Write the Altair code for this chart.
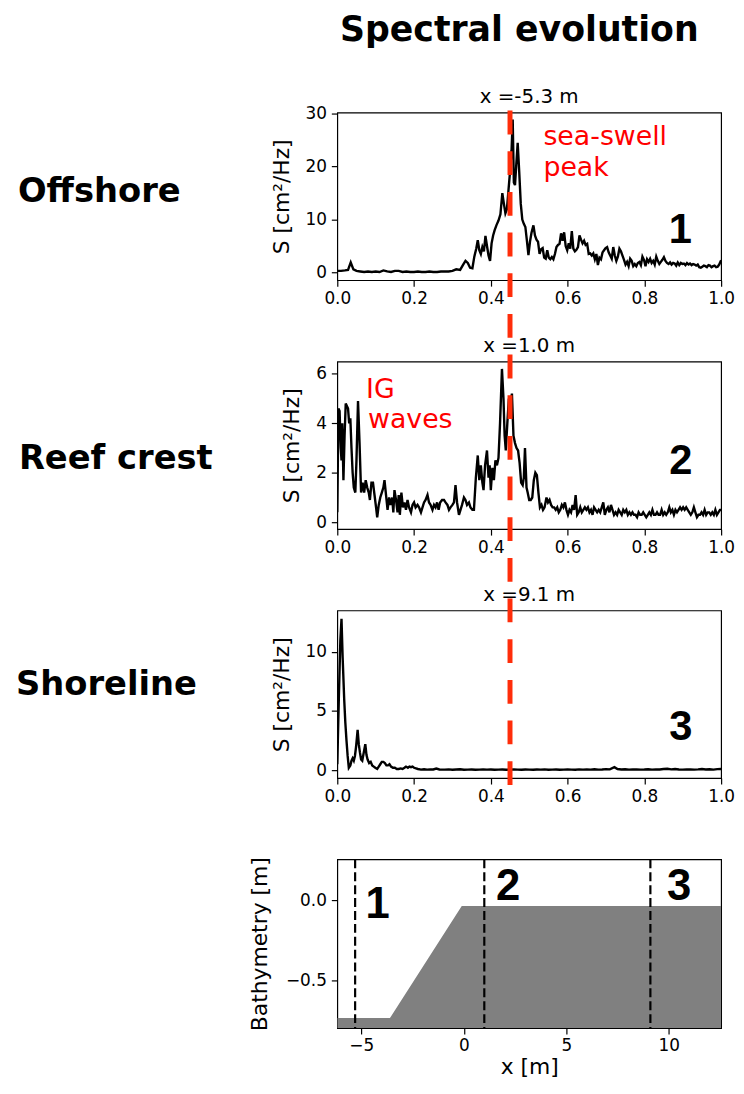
import altair as alt
import pandas as pd

# ---------------- data ----------------
freq_offshore = [0.000, 0.010, 0.020, 0.028, 0.035, 0.042, 0.050, 0.060, 0.070, 0.080, 0.090, 0.100,
                 0.110, 0.120, 0.130, 0.140, 0.150, 0.160, 0.170, 0.180, 0.190, 0.200, 0.210, 0.220,
                 0.230, 0.240, 0.250, 0.260, 0.270, 0.280, 0.290, 0.300, 0.310, 0.320, 0.328, 0.334,
                 0.340, 0.346, 0.352, 0.357, 0.362, 0.366, 0.370, 0.374, 0.378, 0.382, 0.386, 0.390,
                 0.394, 0.398, 0.402, 0.406, 0.410, 0.415, 0.420, 0.425, 0.430, 0.434, 0.438, 0.442,
                 0.446, 0.450, 0.454, 0.457, 0.460, 0.463, 0.466, 0.470, 0.474, 0.478, 0.482, 0.486,
                 0.490, 0.494, 0.498, 0.502, 0.506, 0.511, 0.515, 0.519, 0.523, 0.527, 0.531, 0.535,
                 0.539, 0.543, 0.547, 0.551, 0.555, 0.559, 0.563, 0.567, 0.571, 0.575, 0.579, 0.583,
                 0.587, 0.591, 0.595, 0.599, 0.603, 0.607, 0.611, 0.615, 0.619, 0.623, 0.627, 0.631,
                 0.635, 0.639, 0.643, 0.647, 0.651, 0.655, 0.659, 0.663, 0.667, 0.671, 0.675, 0.679,
                 0.683, 0.687, 0.691, 0.695, 0.699, 0.703, 0.707, 0.711, 0.715, 0.719, 0.723, 0.727,
                 0.731, 0.735, 0.739, 0.743, 0.747, 0.751, 0.755, 0.759, 0.763, 0.767, 0.771, 0.775,
                 0.779, 0.783, 0.787, 0.791, 0.795, 0.799, 0.803, 0.807, 0.811, 0.815, 0.819, 0.823,
                 0.827, 0.831, 0.835, 0.839, 0.843, 0.847, 0.851, 0.855, 0.859, 0.863, 0.867, 0.871,
                 0.875, 0.879, 0.883, 0.887, 0.891, 0.895, 0.899, 0.903, 0.907, 0.911, 0.915, 0.919,
                 0.923, 0.927, 0.931, 0.935, 0.939, 0.943, 0.947, 0.951, 0.955, 0.959, 0.963, 0.967,
                 0.971, 0.975, 0.979, 0.983, 0.987, 0.991, 0.995, 1.000]
S_offshore = [0.3, 0.3, 0.4, 0.5, 1.9, 0.6, 0.3, 0.2, 0.1, 0.2, 0.1, 0.2,
              0.1, 0.4, 0.2, 0.1, 0.3, 0.3, 0.1, 0.2, 0.1, 0.1, 0.2, 0.1,
              0.1, 0.2, 0.1, 0.1, 0.2, 0.2, 0.2, 0.3, 0.6, 0.5, 1.5, 2.2,
              1.8, 0.9, 0.8, 3.0, 4.5, 6.1, 4.2, 3.5, 4.8, 4.0, 6.9, 5.0,
              3.2, 2.2, 5.5, 7.0, 8.0, 9.0, 9.8, 11.0, 15.0, 13.0, 11.2, 12.0,
              15.5, 19.0, 23.0, 28.9, 17.0, 16.5, 20.0, 24.5, 19.0, 13.0, 10.0, 9.2,
              8.6, 6.0, 3.3, 5.8, 7.5, 8.9, 7.0, 6.2, 5.8, 3.5, 4.4, 4.6,
              2.8, 2.6, 4.2, 2.8, 2.5, 2.9, 2.5, 3.5, 4.8, 5.2, 5.4, 7.4,
              6.0, 7.6, 5.0, 4.2, 5.5, 4.5, 7.8, 4.5, 4.0, 4.3, 4.8, 7.0,
              6.2, 5.5, 6.0, 5.2, 5.4, 3.5, 3.6, 3.2, 3.6, 2.5, 3.5, 1.4,
              2.8, 2.5, 3.8, 4.2, 4.6, 4.8, 3.8, 3.2, 2.6, 4.8, 3.2, 2.2,
              3.0, 4.5, 4.0, 3.2, 2.4, 1.5, 2.0, 1.2, 2.6, 2.2, 1.2, 1.6,
              1.2, 1.8, 2.0, 1.4, 3.0, 2.4, 1.2, 2.5, 2.0, 2.6, 1.8, 2.2,
              1.5, 3.0, 2.2, 1.6, 2.0, 2.4, 2.9, 2.2, 1.8, 1.6, 1.9, 1.5,
              1.8, 1.7, 1.3, 1.9, 1.4, 1.8, 1.6, 1.7, 1.4, 1.8, 1.5, 1.7,
              1.4, 1.6, 1.5, 1.3, 1.5, 1.0, 0.9, 1.1, 1.3, 1.2, 1.0, 1.4,
              1.3, 1.0, 1.2, 1.3, 1.0, 1.1, 1.5, 2.3]

freq_reef = [0.000, 0.003, 0.006, 0.009, 0.011, 0.013, 0.016, 0.019, 0.022, 0.025, 0.028, 0.031,
             0.034, 0.037, 0.040, 0.043, 0.047, 0.050, 0.054, 0.058, 0.062, 0.066, 0.070, 0.074,
             0.078, 0.082, 0.085, 0.089, 0.093, 0.097, 0.101, 0.104, 0.108, 0.112, 0.116, 0.120,
             0.123, 0.127, 0.131, 0.135, 0.139, 0.143, 0.146, 0.149, 0.153, 0.157, 0.160, 0.163,
             0.167, 0.171, 0.175, 0.179, 0.183, 0.187, 0.192, 0.196, 0.200, 0.204, 0.209, 0.213,
             0.218, 0.222, 0.226, 0.230, 0.235, 0.239, 0.243, 0.248, 0.252, 0.256, 0.260, 0.264,
             0.268, 0.273, 0.278, 0.282, 0.287, 0.291, 0.295, 0.300, 0.304, 0.308, 0.312, 0.317,
             0.321, 0.325, 0.330, 0.334, 0.338, 0.343, 0.347, 0.352, 0.356, 0.361, 0.366, 0.370,
             0.374, 0.378, 0.381, 0.385, 0.390, 0.394, 0.397, 0.400, 0.404, 0.408, 0.412, 0.416,
             0.420, 0.424, 0.429, 0.433, 0.436, 0.439, 0.443, 0.447, 0.451, 0.455, 0.459, 0.463,
             0.467, 0.471, 0.475, 0.479, 0.483, 0.486, 0.489, 0.493, 0.496, 0.500, 0.504, 0.508,
             0.512, 0.516, 0.520, 0.524, 0.528, 0.532, 0.536, 0.540, 0.545, 0.549, 0.553, 0.557,
             0.561, 0.565, 0.569, 0.573, 0.577, 0.581, 0.585, 0.589, 0.593, 0.597, 0.601, 0.605,
             0.609, 0.613, 0.617, 0.621, 0.625, 0.629, 0.633, 0.637, 0.641, 0.645, 0.649, 0.653,
             0.657, 0.661, 0.665, 0.669, 0.673, 0.677, 0.681, 0.685, 0.689, 0.693, 0.697, 0.701,
             0.705, 0.709, 0.713, 0.717, 0.721, 0.725, 0.729, 0.733, 0.737, 0.741, 0.745, 0.749,
             0.753, 0.757, 0.761, 0.765, 0.769, 0.773, 0.777, 0.781, 0.785, 0.789, 0.793, 0.797,
             0.801, 0.805, 0.809, 0.813, 0.817, 0.821, 0.825, 0.829, 0.833, 0.837, 0.841, 0.845,
             0.849, 0.853, 0.857, 0.861, 0.865, 0.869, 0.873, 0.877, 0.881, 0.885, 0.889, 0.893,
             0.897, 0.901, 0.905, 0.909, 0.913, 0.917, 0.921, 0.925, 0.929, 0.933, 0.937, 0.941,
             0.945, 0.949, 0.953, 0.957, 0.961, 0.965, 0.969, 0.973, 0.977, 0.981, 0.985, 0.989,
             0.993, 0.997, 1.000]
S_reef = [0.4, 4.6, 4.5, 3.0, 2.5, 4.0, 1.7, 3.5, 4.8, 4.7, 4.6, 4.0,
          4.2, 3.0, 2.0, 1.4, 1.2, 2.5, 4.9, 3.2, 1.2, 1.6, 1.2, 1.7,
          1.4, 1.2, 0.9, 1.6, 1.6, 1.1, 0.6, 0.2, 0.7, 1.0, 1.2, 1.4,
          1.7, 1.1, 0.5, 1.0, 0.7, 1.0, 0.4, 1.3, 0.9, 0.4, 1.1, 0.3,
          1.2, 0.6, 0.8, 0.5, 0.9, 0.6, 0.4, 0.7, 0.8, 0.6, 0.7, 0.6,
          0.4, 0.6, 0.8, 0.9, 1.1, 0.8, 0.7, 0.5, 0.7, 0.6, 0.8, 0.5,
          0.8, 0.9, 0.9, 0.8, 0.7, 0.5, 0.6, 0.7, 0.8, 1.5, 0.8, 0.3,
          0.5, 0.7, 1.0, 0.9, 0.7, 0.8, 0.6, 0.5, 0.5, 1.8, 2.7, 1.7,
          2.3, 1.6, 1.3, 2.3, 2.9, 1.8, 2.3, 1.3, 2.2, 1.7, 2.5, 2.3,
          2.6, 4.0, 6.2, 5.0, 3.5, 2.9, 4.0, 5.0, 4.8, 5.2, 3.5, 3.2,
          3.0, 2.9, 2.4, 1.6, 1.5, 1.8, 3.0, 1.4, 1.2, 0.9, 0.9, 1.0,
          1.7, 2.0, 1.9, 1.2, 0.6, 0.7, 0.5, 0.6, 1.0, 0.8, 0.9, 0.7,
          0.6, 0.6, 0.5, 0.6, 0.4, 0.5, 0.7, 0.6, 0.8, 0.5, 0.3, 0.5,
          0.4, 0.7, 0.5, 1.1, 0.3, 0.4, 0.6, 0.4, 0.5, 0.6, 0.5, 0.6,
          0.4, 0.5, 0.3, 0.6, 0.5, 0.4, 0.5, 0.4, 0.6, 0.8, 0.3, 0.5,
          0.6, 0.4, 0.7, 0.5, 0.3, 0.4, 0.3, 0.5, 0.4, 0.3, 0.5, 0.4,
          0.5, 0.3, 0.4, 0.3, 0.4, 0.3, 0.3, 0.2, 0.4, 0.3, 0.3, 0.4,
          0.3, 0.2, 0.3, 0.4, 0.3, 0.5, 0.3, 0.3, 0.4, 0.3, 0.3, 0.5,
          0.3, 0.4, 0.3, 0.4, 0.6, 0.4, 0.5, 0.3, 0.5, 0.4, 0.5, 0.6,
          0.5, 0.6, 0.5, 0.6, 0.5, 0.4, 0.3, 0.4, 0.6, 0.4, 0.2, 0.3,
          0.3, 0.4, 0.3, 0.5, 0.3, 0.4, 0.4, 0.3, 0.4, 0.3, 0.5, 0.3,
          0.4, 0.5, 0.5]

freq_shore = [0.000, 0.004, 0.008, 0.011, 0.014, 0.018, 0.021, 0.024, 0.027, 0.030, 0.034, 0.037,
              0.040, 0.043, 0.046, 0.049, 0.053, 0.056, 0.059, 0.062, 0.065, 0.069, 0.073, 0.076,
              0.079, 0.083, 0.087, 0.091, 0.095, 0.099, 0.104, 0.108, 0.112, 0.116, 0.120, 0.124,
              0.128, 0.132, 0.136, 0.140, 0.145, 0.150, 0.155, 0.160, 0.165, 0.170, 0.175, 0.179,
              0.184, 0.188, 0.192, 0.196, 0.200, 0.205, 0.210, 0.218, 0.226, 0.234, 0.242, 0.250,
              0.258, 0.266, 0.280, 0.290, 0.300, 0.310, 0.320, 0.330, 0.340, 0.350, 0.360, 0.370,
              0.380, 0.390, 0.400, 0.410, 0.420, 0.430, 0.440, 0.450, 0.460, 0.470, 0.480, 0.490,
              0.500, 0.510, 0.520, 0.530, 0.540, 0.550, 0.560, 0.570, 0.580, 0.590, 0.600, 0.610,
              0.620, 0.630, 0.640, 0.650, 0.660, 0.670, 0.680, 0.690, 0.700, 0.710, 0.722, 0.730,
              0.740, 0.750, 0.760, 0.770, 0.780, 0.790, 0.800, 0.810, 0.820, 0.830, 0.840, 0.850,
              0.860, 0.870, 0.880, 0.890, 0.900, 0.910, 0.920, 0.930, 0.940, 0.950, 0.960, 0.970,
              0.980, 0.990, 1.000]
S_shore = [0.5, 6.0, 11.0, 12.8, 9.5, 6.0, 4.0, 2.5, 1.2, 0.2, 0.4, 0.8,
           1.0, 0.8, 1.2, 2.0, 3.4, 2.2, 1.5, 0.9, 0.8, 1.5, 2.2, 1.3,
           0.9, 0.6, 0.7, 0.4, 0.3, 0.2, 0.1, 0.3, 0.5, 0.7, 0.7, 0.6,
           0.4, 0.4, 0.5, 0.3, 0.2, 0.2, 0.1, 0.1, 0.15, 0.1, 0.2, 0.3,
           0.2, 0.3, 0.25, 0.3, 0.2, 0.15, 0.1, 0.05, 0.08, 0.05, 0.07, 0.06,
           0.14, 0.06, 0.05, 0.07, 0.04, 0.06, 0.08, 0.04, 0.05, 0.06, 0.04, 0.05,
           0.07, 0.05, 0.06, 0.04, 0.05, 0.06, 0.04, 0.05, 0.07, 0.05, 0.04, 0.06,
           0.05, 0.04, 0.06, 0.05, 0.07, 0.04, 0.05, 0.06, 0.04, 0.05, 0.06, 0.05,
           0.04, 0.07, 0.05, 0.06, 0.05, 0.08, 0.05, 0.06, 0.09, 0.07, 0.25, 0.1,
           0.06, 0.08, 0.05, 0.06, 0.07, 0.05, 0.06, 0.08, 0.05, 0.07, 0.06, 0.1,
           0.12, 0.07, 0.1, 0.06, 0.05, 0.07, 0.06, 0.05, 0.07, 0.1, 0.06, 0.08,
           0.05, 0.09, 0.1]

bathy_x = [-6.17, -3.6, -0.1, 12.55]
bathy_z = [-0.733, -0.733, -0.037, -0.037]
gauge_x = [-5.3, 1.0, 9.1]
gauge_labels = ["1", "2", "3"]
panel_titles = ["x =-5.3 m", "x =1.0 m", "x =9.1 m"]
zone_names = ["Offshore", "Reef crest", "Shoreline"]
peak_freq = 0.45
freq_ticks = [0.0, 0.2, 0.4, 0.6, 0.8, 1.0]

# ---------------- styling ----------------
FONT = "DejaVu Sans"
W, H = 387, 169
RED_LINE = "#ff2d0a"
RED_TEXT = "#ff0000"
BIG = "Liberation Sans"


def encodings(xdom, ydom, xticks, yticks, xfmt, yfmt, ytitle, xtitle=None, ytpad=12):
    if xtitle is None:
        xaxis = alt.Axis(values=xticks, format=xfmt, title=None, labelFlush=False, labelPadding=5)
    else:
        xaxis = alt.Axis(values=xticks, format=xfmt, title=xtitle, labelFlush=False, labelPadding=4,
                         titlePadding=3)
    x = alt.X("x:Q", scale=alt.Scale(domain=xdom, nice=False, zero=False), axis=xaxis)
    y = alt.Y("y:Q", scale=alt.Scale(domain=ydom, nice=False, zero=False),
              axis=alt.Axis(values=yticks, format=yfmt, title=ytitle, titlePadding=ytpad,
                            labelFlush=False))
    return x, y


def label_text(text, xpx, ypx, size, weight="normal", font=FONT, align="left", color="black"):
    return alt.Chart(pd.DataFrame({"t": [text]})).mark_text(
        font=font, fontSize=size, fontWeight=weight, align=align, baseline="alphabetic", color=color
    ).encode(x=alt.value(xpx), y=alt.value(ypx), text="t:N")


def spectrum_panel(freq, S, ydom, yticks, title, zone, zone_xy, number, num_xy, notes=None,
                   extra=None):
    x, y = encodings([0, 1], ydom, freq_ticks, yticks, ".1f", "d", "S [cm²/Hz]")
    layers = [alt.Chart(pd.DataFrame({"x": freq, "y": S})).mark_line(
        color="black", strokeWidth=2.4, clip=True).encode(x=x, y=y)]
    if notes is not None:
        layers.append(alt.Chart(pd.DataFrame(notes)).mark_text(
            font=FONT, fontSize=27, color=RED_TEXT, align="left", baseline="alphabetic"
        ).encode(x=x, y=y, text="t:N"))
    layers.append(alt.Chart(pd.DataFrame({"x": [num_xy[0]], "y": [num_xy[1]], "t": [number]})).mark_text(
        font=BIG, fontSize=42, fontWeight="bold", color="black", align="center", baseline="alphabetic"
    ).encode(x=x, y=y, text="t:N"))
    layers.append(label_text(title, W / 2, -10, 20, align="center"))
    layers.append(label_text(zone, zone_xy[0], zone_xy[1], 34, weight="bold"))
    if extra is not None:
        layers.extend(extra(x, y))
    return alt.layer(*layers).properties(width=W, height=H)


def heading(x, y):
    return [label_text("Spectral evolution", 183.5, -72, 35, weight="bold", align="center")]


def red_rule(x, y):
    return [alt.Chart(pd.DataFrame({"x": [peak_freq]})).mark_rule(
        color=RED_LINE, strokeWidth=5, strokeDash=[24, 17]
    ).encode(x=x, y=alt.value(-504), y2=alt.value(180))]


p1 = spectrum_panel(freq_offshore, S_offshore, [-1.45, 30.2], [0, 10, 20, 30], panel_titles[0],
                    zone_names[0], (-322, 90), gauge_labels[0], (0.894, 5.5),
                    notes={"x": [0.537, 0.537], "y": [24.0, 18.2], "t": ["sea-swell", "peak"]},
                    extra=heading)
p2 = spectrum_panel(freq_reef, S_reef, [-0.28, 6.5], [0, 2, 4, 6], panel_titles[1],
                    zone_names[1], (-321, 108), gauge_labels[1], (0.895, 1.95),
                    notes={"x": [0.075, 0.08], "y": [5.03, 3.83], "t": ["IG", "waves"]})
p3 = spectrum_panel(freq_shore, S_shore, [-0.67, 13.5], [0, 5, 10], panel_titles[2],
                    zone_names[2], (-324, 85), gauge_labels[2], (0.895, 2.57),
                    extra=red_rule)

# bathymetry panel
bx, by = encodings([-6.17, 12.55], [-0.796, 0.253], [-5, 0, 5, 10], [-0.5, 0.0], "d", ".1f",
                   "Bathymetry [m]", xtitle="x [m]", ytpad=14)
bathy_df = pd.DataFrame({"x": bathy_x, "y": bathy_z, "base": [-0.796] * len(bathy_x)})
area = alt.Chart(bathy_df).mark_area(color="#808080", opacity=1, clip=True).encode(
    x=bx, y=by, y2="base:Q")
gauges = alt.Chart(pd.DataFrame({"x": gauge_x})).mark_rule(
    color="black", strokeWidth=2.2, strokeDash=[9, 4]).encode(x=bx)
gnums = alt.Chart(pd.DataFrame({"x": [-4.2, 2.16, 10.5], "y": [-0.111, 0.0, 0.0],
                                "t": gauge_labels})).mark_text(
    font=BIG, fontSize=44, fontWeight="bold", color="black", align="center", baseline="alphabetic"
).encode(x=bx, y=by, text="t:N")
p4 = alt.layer(area, gauges, gnums).properties(width=W, height=170)

chart = alt.vconcat(p1, p2, p3, p4, spacing=82, bounds="flush").properties(
    padding={"left": 7, "top": 0, "right": 0, "bottom": 0}
).configure_axis(
    labelFont=FONT, labelFontSize=17, labelColor="black", titleFont=FONT, titleFontSize=22,
    titleFontWeight="normal", titleColor="black", tickColor="black", tickWidth=1.2, tickSize=6,
    domain=False, grid=False, labelPadding=5
).configure_view(stroke="black", strokeWidth=1.2)

chart.save("out.html", embed_options={"renderer": "svg", "actions": False})
